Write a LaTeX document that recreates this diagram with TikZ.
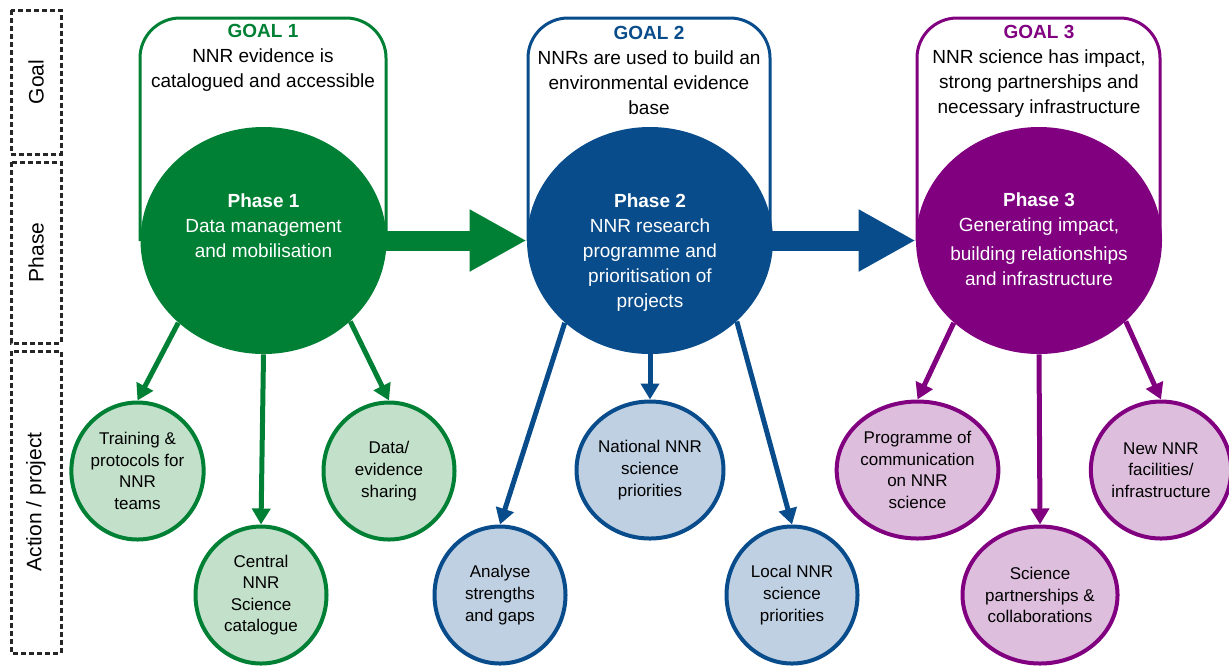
\documentclass[tikz,border=0pt]{standalone}
\usepackage{fontspec}
\setmainfont{Liberation Sans}
\usetikzlibrary{shapes.geometric,arrows.meta}
\definecolor{goalgreen}{RGB}{0,128,52}
\definecolor{lightgreen}{RGB}{194,224,202}
\definecolor{goalblue}{RGB}{9,76,139}
\definecolor{lightblue}{RGB}{191,208,226}
\definecolor{goalpurple}{RGB}{128,0,128}
\definecolor{lightpurple}{RGB}{222,190,221}
\begin{document}
\begin{tikzpicture}[x=0.5pt,y=-0.5pt,
  every node/.style={inner sep=0pt,align=center},
  rowbox/.style={draw=black!85,line width=1.5pt,dash pattern=on 2.5pt off 1.5pt,rotate=90,minimum height=25pt,font=\fontsize{10.5}{12}\selectfont},
  goalbox/.style={line width=1.5pt,rounded corners=20pt},
  goaltext/.style={anchor=north,font=\fontsize{9.5}{12.5}\selectfont},
  phase/.style={ellipse,minimum width=123pt,minimum height=113.5pt},
  phasetext/.style={anchor=north,text=white,font=\fontsize{9.5}{12.5}\selectfont},
  action/.style={ellipse,line width=2pt,minimum width=65.5pt,minimum height=68.5pt,font=\fontsize{8.5}{10.8}\selectfont},
  link/.style={line width=2.5pt,-{Triangle[length=8pt,width=9pt]}},
  bigarrow/.style={line width=10pt,-{Triangle[length=28.5pt,width=29pt]},shorten <=-2pt}]
\useasboundingbox (0,0) rectangle (1229,666);
\node[rowbox,minimum width=72pt] (goalrow) at (36,82) {Goal};
\node[rowbox,minimum width=90.5pt] (phaserow) at (36,252.5) {Phase};
\node[rowbox,minimum width=151pt] (actionrow) at (36,502) {Action / project};
\draw[goalbox,goalgreen] (140,241) -- (140,18) -- (386,18) -- (386,241);
\draw[goalbox,goalblue] (528,241) -- (528,18) -- (770,18) -- (770,241);
\draw[goalbox,goalpurple] (917,241) -- (917,18) -- (1160,18) -- (1160,241);
\node[phase,fill=goalgreen] (p1) at (263.5,240.5) {};
\node[phase,fill=goalblue] (p2) at (650,240.5) {};
\node[phase,fill=goalpurple] (p3) at (1039,240.5) {};
\node[goaltext] (g1) at (263,24) {\textcolor{goalgreen}{\textbf{GOAL 1}}\\NNR evidence is\\catalogued and accessible};
\node[goaltext] (g2) at (649,26) {\textcolor{goalblue}{\textbf{GOAL 2}}\\NNRs are used to build an\\environmental evidence\\base};
\node[goaltext] (g3) at (1039,25) {\textcolor{goalpurple}{\textbf{GOAL 3}}\\NNR science has impact,\\strong partnerships and\\necessary infrastructure};
\node[phasetext] (p1txt) at (263.5,193) {\textbf{Phase 1}\\Data management\\and mobilisation};
\node[phasetext] (p2txt) at (650,193) {\textbf{Phase 2}\\NNR research\\programme and\\prioritisation of\\projects};
\node[phasetext] (p3txt) at (1039,192) {\textbf{Phase 3}\\Generating impact,\\[2pt]building relationships\\and infrastructure};
\draw[bigarrow,goalgreen] (p1) -- (p2);
\draw[bigarrow,goalblue] (p2) -- (p3);
\node[action,draw=goalgreen,fill=lightgreen] (a1) at (137.5,471) {Training \&\\protocols for\\NNR\\teams};
\node[action,draw=goalgreen,fill=lightgreen] (a2) at (261,595) {Central\\NNR\\Science\\catalogue};
\node[action,draw=goalgreen,fill=lightgreen] (a3) at (389,471) {Data/\\evidence\\sharing};
\node[action,draw=goalblue,fill=lightblue] (b1) at (500,595) {Analyse\\strengths\\and gaps};
\node[action,draw=goalblue,fill=lightblue] (b2) at (650,470) {National NNR\\science\\priorities};
\node[action,draw=goalblue,fill=lightblue] (b3) at (792,595) {Local NNR\\science\\priorities};
\node[action,draw=goalpurple,fill=lightpurple] (c1) at (917.5,470) {Programme of\\communication\\on NNR\\science};
\node[action,draw=goalpurple,fill=lightpurple] (c2) at (1040,595) {Science\\partnerships \&\\collaborations};
\node[action,draw=goalpurple,fill=lightpurple] (c3) at (1161,470) {New NNR\\facilities/\\infrastructure};
\draw[link,goalgreen] (p1.224) -- (a1.north);
\draw[link,goalgreen] (p1.south) -- (a2.north);
\draw[link,goalgreen] (p1.317) -- (a3.north);
\draw[link,goalblue] (p2.224) -- (b1.north);
\draw[link,goalblue] (p2.south) -- (b2.north);
\draw[link,goalblue] (p2.317) -- (b3.north);
\draw[link,goalpurple] (p3.224) -- (c1.north);
\draw[link,goalpurple] (p3.south) -- (c2.north);
\draw[link,goalpurple] (p3.317) -- (c3.north);
\end{tikzpicture}
\end{document}
